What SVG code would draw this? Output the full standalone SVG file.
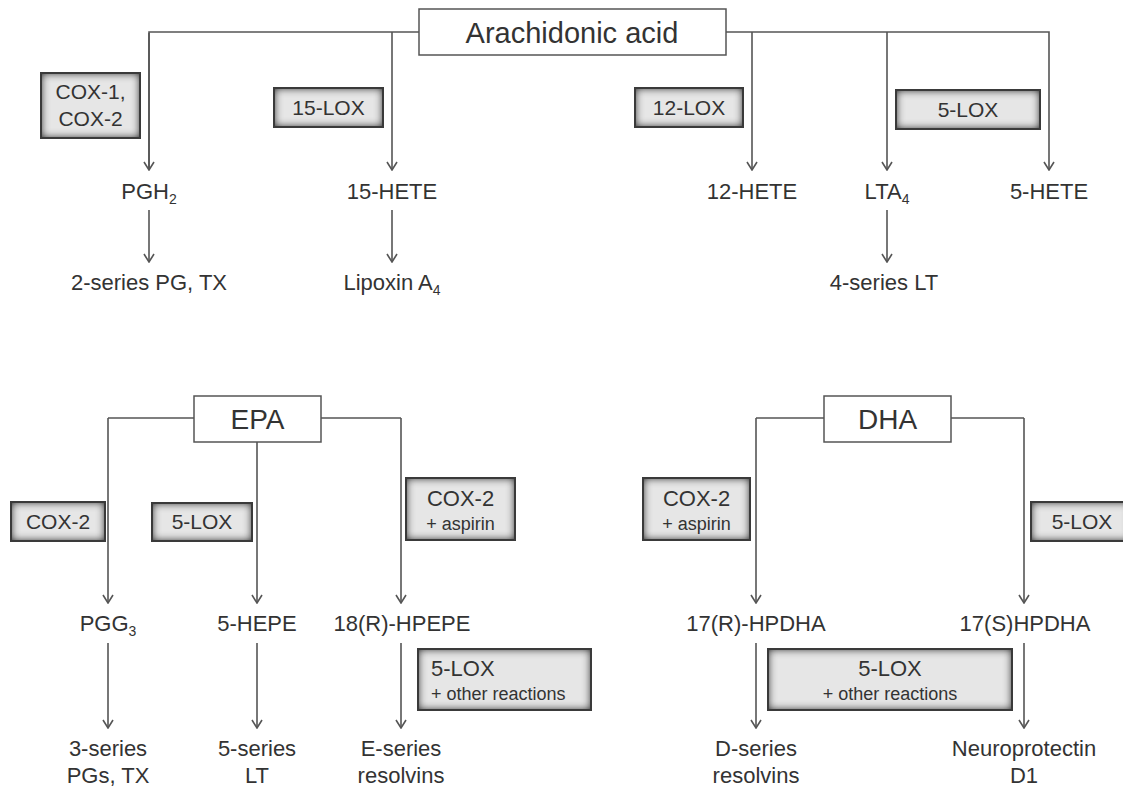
<svg xmlns="http://www.w3.org/2000/svg" width="1123" height="787" viewBox="0 0 1123 787">
<style>
  text { font-family: "Liberation Sans", Arial, sans-serif; fill: #333; }
  .n { font-size: 22px; text-anchor: middle; }
  .src { font-size: 28px; text-anchor: middle; }
  .e { font-size: 21px; text-anchor: middle; }
  .e2 { font-size: 22px; }
  .s { font-size: 18px; }
  .sub { font-size: 14px; }
  .c { fill: none; stroke: #555; stroke-width: 1.6; }
  .a { marker-end: url(#arr); }
  .sbox { fill: #fff; stroke: #555; stroke-width: 1.5; }
  .ebg { fill: #e6e6e6; filter: url(#inset); }
  .ebd { fill: none; stroke: #3a3a3a; stroke-width: 2; }
</style>
<defs>
  <marker id="arr" viewBox="0 0 10 12" refX="9" refY="6" markerWidth="10" markerHeight="12" markerUnits="userSpaceOnUse" orient="auto">
    <path d="M1 1 L9 6 L1 11" fill="none" stroke="#555" stroke-width="1.6"/>
  </marker>
  <filter id="inset" x="-20%" y="-40%" width="140%" height="180%">
    <feFlood flood-color="#2a2a2a" result="f"/>
    <feComposite in="f" in2="SourceAlpha" operator="out" result="o"/>
    <feGaussianBlur in="o" stdDeviation="4.5" result="b"/>
    <feComposite in="b" in2="SourceAlpha" operator="in" result="sh"/>
    <feMerge><feMergeNode in="SourceGraphic"/><feMergeNode in="sh"/><feMergeNode in="sh"/></feMerge>
  </filter>
</defs>
<rect width="1123" height="787" fill="#fff"/>

<g id="connectors">
  <path class="c a" d="M149 170 V32 H1049 V170"/>
  <path class="c a" d="M149 33 V170"/>
  <path class="c a" d="M392 32 V170"/>
  <path class="c a" d="M752 32 V170"/>
  <path class="c a" d="M887 32 V170"/>
  <path class="c a" d="M149 210 V262"/>
  <path class="c a" d="M392 210 V262"/>
  <path class="c a" d="M887 210 V262"/>
  <path class="c" d="M108 418 H401"/>
  <path class="c a" d="M108 418 V603"/>
  <path class="c a" d="M401 418 V603"/>
  <path class="c a" d="M257 442 V603"/>
  <path class="c a" d="M108 643 V728"/>
  <path class="c a" d="M257 643 V728"/>
  <path class="c a" d="M401 643 V728"/>
  <path class="c" d="M756 418 H1024"/>
  <path class="c a" d="M756 418 V603"/>
  <path class="c a" d="M1024 418 V603"/>
  <path class="c a" d="M756 643 V728"/>
  <path class="c a" d="M1024 643 V728"/>
</g>

<g id="arachidonic-acid">
  <rect class="sbox" x="419" y="9" width="307" height="46"/>
  <text class="src" x="572" y="43" style="font-size:29px">Arachidonic acid</text>
</g>
<g id="epa">
  <rect class="sbox" x="194" y="396" width="127" height="46"/>
  <text class="src" x="257.5" y="429">EPA</text>
</g>
<g id="dha">
  <rect class="sbox" x="824" y="396" width="127" height="46"/>
  <text class="src" x="887.5" y="429">DHA</text>
</g>

<g id="enz-cox12">
  <rect class="ebg" x="41" y="73" width="99" height="65"/>
  <rect class="ebd" x="41" y="73" width="99" height="65"/>
  <text class="e" x="90.5" y="99">COX-1,</text>
  <text class="e" x="90.5" y="126">COX-2</text>
</g>
<g id="enz-15lox">
  <rect class="ebg" x="274" y="88" width="109" height="39"/>
  <rect class="ebd" x="274" y="88" width="109" height="39"/>
  <text class="e" x="328.5" y="115">15-LOX</text>
</g>
<g id="enz-12lox">
  <rect class="ebg" x="635" y="88" width="108" height="39"/>
  <rect class="ebd" x="635" y="88" width="108" height="39"/>
  <text class="e" x="689" y="115">12-LOX</text>
</g>
<g id="enz-5lox-aa">
  <rect class="ebg" x="896" y="90" width="144" height="39"/>
  <rect class="ebd" x="896" y="90" width="144" height="39"/>
  <text class="e" x="968" y="117">5-LOX</text>
</g>
<g id="enz-cox2-epa">
  <rect class="ebg" x="11" y="502" width="94" height="39"/>
  <rect class="ebd" x="11" y="502" width="94" height="39"/>
  <text class="e" x="58" y="529">COX-2</text>
</g>
<g id="enz-5lox-epa">
  <rect class="ebg" x="152" y="503" width="100" height="38"/>
  <rect class="ebd" x="152" y="503" width="100" height="38"/>
  <text class="e" x="202" y="529">5-LOX</text>
</g>
<g id="enz-cox2asp-epa">
  <rect class="ebg" x="406" y="478" width="109" height="62"/>
  <rect class="ebd" x="406" y="478" width="109" height="62"/>
  <text class="e e2" x="460.5" y="506">COX-2</text>
  <text class="e s" x="460.5" y="530">+ aspirin</text>
</g>
<g id="enz-5loxother-epa">
  <rect class="ebg" x="418" y="649" width="173" height="61"/>
  <rect class="ebd" x="418" y="649" width="173" height="61"/>
  <text class="e2" x="431" y="676">5-LOX</text>
  <text class="s" x="431" y="700">+ other reactions</text>
</g>
<g id="enz-cox2asp-dha">
  <rect class="ebg" x="643" y="478" width="107" height="62"/>
  <rect class="ebd" x="643" y="478" width="107" height="62"/>
  <text class="e e2" x="696.5" y="506">COX-2</text>
  <text class="e s" x="696.5" y="530">+ aspirin</text>
</g>
<g id="enz-5lox-dha">
  <rect class="ebg" x="1031" y="502" width="100" height="39"/>
  <rect class="ebd" x="1031" y="502" width="100" height="39"/>
  <text class="e" x="1082" y="529">5-LOX</text>
</g>
<g id="enz-5loxother-dha">
  <rect class="ebg" x="768" y="649" width="244" height="61"/>
  <rect class="ebd" x="768" y="649" width="244" height="61"/>
  <text class="e e2" x="890" y="676">5-LOX</text>
  <text class="e s" x="890" y="700">+ other reactions</text>
</g>

<g id="pgh2"><text class="n" x="149" y="199">PGH<tspan class="sub" dy="5">2</tspan></text></g>
<g id="hete15"><text class="n" x="392" y="199">15-HETE</text></g>
<g id="hete12"><text class="n" x="752" y="199">12-HETE</text></g>
<g id="lta4"><text class="n" x="887" y="199">LTA<tspan class="sub" dy="5">4</tspan></text></g>
<g id="hete5"><text class="n" x="1049" y="199">5-HETE</text></g>
<g id="series2"><text class="n" x="149" y="290">2-series PG, TX</text></g>
<g id="lipoxin"><text class="n" x="392" y="290">Lipoxin A<tspan class="sub" dy="5">4</tspan></text></g>
<g id="series4"><text class="n" x="884" y="290">4-series LT</text></g>

<g id="pgg3"><text class="n" x="108" y="631">PGG<tspan class="sub" dy="5">3</tspan></text></g>
<g id="hepe5"><text class="n" x="257" y="631">5-HEPE</text></g>
<g id="hpepe18"><text class="n" x="402" y="631">18(R)-HPEPE</text></g>
<g id="series3"><text class="n" x="108" y="756">3-series</text><text class="n" x="108" y="783">PGs, TX</text></g>
<g id="series5"><text class="n" x="257" y="756">5-series</text><text class="n" x="257" y="783">LT</text></g>
<g id="eseries"><text class="n" x="401" y="756">E-series</text><text class="n" x="401" y="783">resolvins</text></g>

<g id="hpdha17r"><text class="n" x="756" y="631">17(R)-HPDHA</text></g>
<g id="hpdha17s"><text class="n" x="1025" y="631">17(S)HPDHA</text></g>
<g id="dseries"><text class="n" x="756" y="756">D-series</text><text class="n" x="756" y="783">resolvins</text></g>
<g id="npd1"><text class="n" x="1024" y="756">Neuroprotectin</text><text class="n" x="1024" y="783">D1</text></g>
</svg>
